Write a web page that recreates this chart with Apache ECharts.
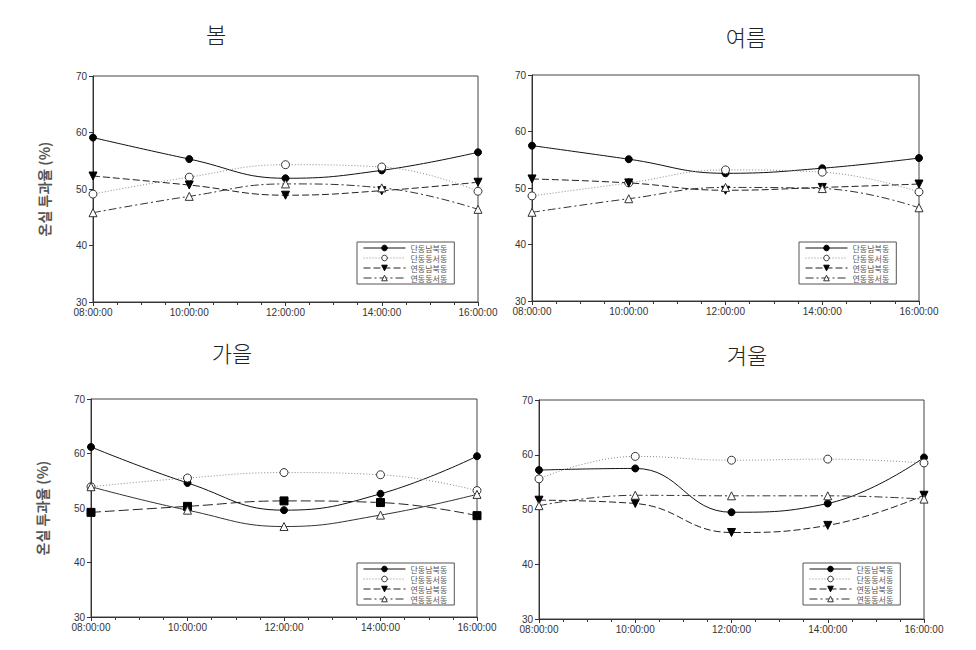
<!DOCTYPE html>
<html><head><meta charset="utf-8">
<script src="https://cdn.jsdelivr.net/npm/echarts@6/dist/echarts.min.js"></script>
<style>html,body{margin:0;padding:0;background:#fff}#c{width:976px;height:650px}</style>
</head><body><div id="c"></div>
<script>
const hours = [8, 10, 12, 14, 16];
const seriesNames = ['단동남북동', '단동동서동', '연동남북동', '연동동서동'];
const panelTitles = ['봄', '여름', '가을', '겨울'];
const yAxisTitle = '온실 투과율 (%)';

const spring1 = [59.1, 55.3, 51.9, 53.3, 56.5];
const spring2 = [49.1, 52.1, 54.3, 53.9, 49.6];
const spring3 = [52.3, 50.7, 48.9, 49.7, 51.2];
const spring4 = [45.8, 48.7, 50.9, 50.2, 46.4];

const summer1 = [57.5, 55.1, 52.6, 53.5, 55.3];
const summer2 = [48.6, 50.9, 53.2, 52.8, 49.3];
const summer3 = [51.6, 50.9, 49.6, 50.1, 50.7];
const summer4 = [45.7, 48.1, 50.1, 49.9, 46.5];

const autumn1 = [61.2, 54.6, 49.6, 52.6, 59.5];
const autumn2 = [53.9, 55.5, 56.5, 56.1, 53.2];
const autumn3 = [49.2, 50.3, 51.3, 51.0, 48.6];
const autumn4 = [53.9, 49.6, 46.6, 48.7, 52.5];

const winter1 = [57.2, 57.5, 49.5, 51.1, 59.5];
const winter2 = [55.6, 59.7, 59.0, 59.2, 58.5];
const winter3 = [51.7, 51.1, 45.8, 47.1, 52.6];
const winter4 = [50.7, 52.6, 52.5, 52.5, 51.9];

const panelData = [
  [spring1, spring2, spring3, spring4],
  [summer1, summer2, summer3, summer4],
  [autumn1, autumn2, autumn3, autumn4],
  [winter1, winter2, winter3, winter4]
];

const grids = [
  {left: 93, top: 76, width: 385, height: 226},
  {left: 532, top: 75, width: 387, height: 226},
  {left: 91, top: 399, width: 386, height: 218},
  {left: 539, top: 400, width: 385, height: 219}
];
const titlePos = [[216, 22], [746, 25], [232, 341], [747, 343]];
const legendPos = [[357, 242], [799, 242], [357, 563], [803, 563]];

const pad = n => (n < 10 ? '0' : '') + n;

const styles = [
  {line: {color: '#111', width: 1, type: 'solid'}, symbol: 'circle', size: 7, fill: '#000', border: '#000', rot: 0},
  {line: {color: '#888', width: 1, type: [1, 2]}, symbol: 'circle', size: 8, fill: '#fff', border: '#333', rot: 0},
  {line: {color: '#222', width: 1, type: [7, 3]}, symbol: 'triangle', size: 8, fill: '#000', border: '#000', rot: 180},
  {line: {color: '#333', width: 1, type: [8, 3, 2, 3]}, symbol: 'triangle', size: 8, fill: '#fff', border: '#333', rot: 0}
];

const option = {
  animation: false,
  backgroundColor: '#fff',
  textStyle: {fontFamily: 'Liberation Sans, Arial, sans-serif'},
  grid: grids.map(g => Object.assign({show: true, borderColor: '#444', borderWidth: 1, backgroundColor: 'transparent'}, g)),
  xAxis: grids.map((g, i) => ({
    type: 'value', gridIndex: i, min: 8, max: 16, interval: 2,
    axisLine: {lineStyle: {color: '#333'}},
    axisTick: {show: true, length: 4, inside: false, lineStyle: {color: '#333'}},
    minorTick: {show: true, splitNumber: 4, length: 3, lineStyle: {color: '#333'}},
    splitLine: {show: false},
    axisLabel: {color: '#333', fontSize: 10, margin: 5, formatter: v => pad(v) + ':00:00'}
  })),
  yAxis: grids.map((g, i) => ({
    type: 'value', gridIndex: i, min: 30, max: 70, interval: 10,
    axisLine: {show: true, lineStyle: {color: '#333'}},
    axisTick: {show: true, length: 4, lineStyle: {color: '#333'}},
    splitLine: {show: false},
    axisLabel: {color: '#333', fontSize: 10, margin: 6},
    name: (i % 2 === 0) ? yAxisTitle : '',
    nameLocation: 'middle', nameRotate: 90, nameGap: 42,
    nameTextStyle: {fontSize: 14, fontWeight: 'bold', color: '#555', fontFamily: 'Noto Sans CJK KR'}
  })),
  legend: legendPos.map(p => ({
    data: seriesNames, orient: 'vertical', left: p[0], top: p[1],
    itemWidth: 42, itemHeight: 7, itemGap: 0, padding: [1, 7, 1, 6],
    borderColor: '#555', borderWidth: 1, selectedMode: false,
    lineStyle: {width: 1},
    itemStyle: {borderWidth: 1},
    textStyle: {fontSize: 8, color: '#555', lineHeight: 10, fontFamily: 'Noto Sans CJK KR'}
  })),
  graphic: panelTitles.map((t, i) => ({
    type: 'text', x: titlePos[i][0], y: titlePos[i][1],
    style: {text: t, fontSize: 22, fontWeight: 300, fill: '#222', fontFamily: 'Noto Sans CJK KR', align: 'center', verticalAlign: 'top'}
  })),
  series: []
};

panelData.forEach((arr, pi) => {
  arr.forEach((vals, si) => {
    const st = styles[si];
    let symbol = st.symbol, rot = st.rot, lineType = st.line.type;
    if (pi === 2 && si === 2) { symbol = 'rect'; rot = 0; lineType = [10, 4]; }
    if (pi === 2 && si === 3) { lineType = 'solid'; }
    option.series.push({
      type: 'line', name: seriesNames[si], xAxisIndex: pi, yAxisIndex: pi,
      data: hours.map((h, k) => [h, vals[k]]),
      smooth: 0.45,
      symbol: symbol, symbolSize: st.size, symbolRotate: rot,
      lineStyle: {color: st.line.color, width: st.line.width, type: lineType},
      itemStyle: {color: st.fill, borderColor: st.border, borderWidth: 1}
    });
  });
});

const chart = echarts.init(document.getElementById('c'), null, {renderer: 'svg'});
chart.setOption(option);
</script></body></html>
